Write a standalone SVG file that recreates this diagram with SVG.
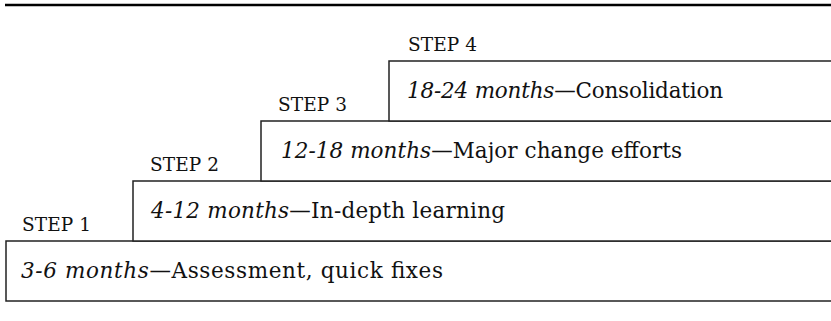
<svg xmlns="http://www.w3.org/2000/svg" width="831" height="321" viewBox="0 0 831 321">
<style>
.box{fill:#fff;stroke:#222;stroke-width:1.5}
.lbl{font-family:"DejaVu Serif",serif;font-size:18.5px;fill:#111}
.txt{font-family:"DejaVu Serif",serif;font-size:21.5px;fill:#111}
.it{font-style:italic}
</style>
<rect width="831" height="321" fill="#fff"/>
<line x1="5" y1="5" x2="831" y2="5" stroke="#000" stroke-width="2.5"/>
<g id="step1">
<rect class="box" x="6" y="241" width="830" height="60"/>
<text class="lbl" x="22" y="231" textLength="69">STEP 1</text>
<text class="txt" x="21" y="278" textLength="422"><tspan class="it">3-6 months</tspan>—Assessment, quick fixes</text>
</g>
<g id="step2">
<rect class="box" x="133" y="181" width="703" height="60"/>
<text class="lbl" x="150" y="171" textLength="69">STEP 2</text>
<text class="txt" x="151" y="218" textLength="354"><tspan class="it">4-12 months</tspan>—In-depth learning</text>
</g>
<g id="step3">
<rect class="box" x="261" y="121" width="575" height="60"/>
<text class="lbl" x="278" y="111" textLength="69">STEP 3</text>
<text class="txt" x="281" y="158" textLength="401"><tspan class="it">12-18 months</tspan>—Major change efforts</text>
</g>
<g id="step4">
<rect class="box" x="389" y="61" width="447" height="60"/>
<text class="lbl" x="408" y="51" textLength="69">STEP 4</text>
<text class="txt" x="407" y="98" textLength="316"><tspan class="it">18-24 months</tspan>—Consolidation</text>
</g>
<g id="connectors"></g>
</svg>
